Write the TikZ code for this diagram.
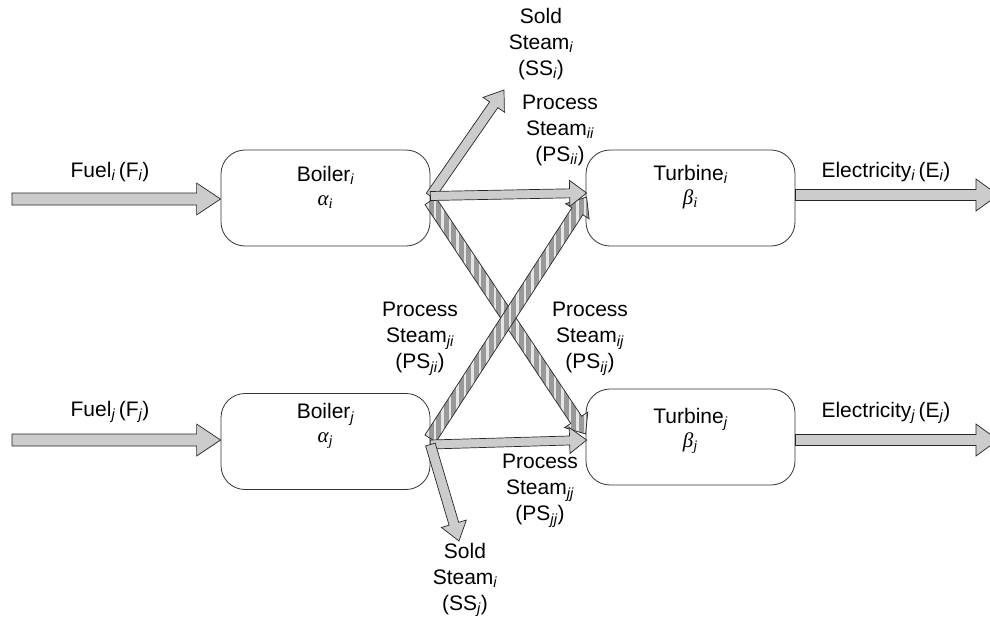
\documentclass[tikz,border=0pt]{standalone}
\usepackage{fontspec}
\setmainfont{Liberation Sans}
\newfontfamily\grkfont{Liberation Serif}
\usetikzlibrary{calc,patterns.meta}
\newcommand{\blockarrow}[6]{%
  \coordinate (ba-base) at ($(#2)!#5!(#1)$);
  \path[#6] ($(#1)!#3!90:(#2)$) -- ($(ba-base)!#3!90:(#2)$) -- ($(ba-base)!#4!90:(#2)$) -- (#2)
     -- ($(ba-base)!#4!-90:(#2)$) -- ($(ba-base)!#3!-90:(#2)$) -- ($(#1)!#3!-90:(#2)$) -- cycle;
}
\newcommand{\sub}[1]{\textsubscript{\itshape #1}}
\newcommand{\grk}[2]{{\grkfont\itshape #1\sub{#2}}}
\begin{document}
\begin{tikzpicture}[x=1pt,y=-1pt,
  unit/.style={draw=black!80, line width=0.8pt, rounded corners=24pt, minimum width=209pt, minimum height=96pt, inner sep=0pt},
  lbl/.style={font=\fontsize{21}{26}\selectfont, align=center, inner sep=0pt},
  plain/.style={fill=black!20, draw=black!85, line width=0.7pt, line join=miter},
  hatched/.style={fill=black!40, postaction={pattern={Lines[angle=90,distance=7.5pt,line width=2.4pt]}, pattern color=white!90!black}, postaction={draw=black!85, line width=0.7pt}}
]
\useasboundingbox (0,0) rectangle (990,625);
\clip (0,0) rectangle (990,625);
% units
\node[unit] (bi) at (325.5,198) {};
\node[unit] (ti) at (690.5,198) {};
\node[unit] (bj) at (325.5,441.5) {};
\node[unit] (tj) at (690.5,437) {};
\node[lbl] (bit) at (325.5,187) {Boiler\sub{i}\\[-2pt]\grk{α}{i}};
\node[lbl] (tit) at (690.5,187) {Turbine\sub{i}\\[-2pt]\grk{β}{i}};
\node[lbl] (bjt) at (325.5,426) {Boiler\sub{j}\\[-2pt]\grk{α}{j}};
\node[lbl] (tjt) at (690.5,431) {Turbine\sub{j}\\[-2pt]\grk{β}{j}};
% coordinates
\coordinate (fi0) at (12,199);
\coordinate (fj0) at (12,440);
\coordinate (ei1) at (998,195);
\coordinate (ej1) at (998,440);
\coordinate (ssi) at (504,90);
\coordinate (ssj) at (459,541);
\coordinate (bio) at ($(bi.east)+(0,-2)$);
\coordinate (bio2) at ($(bi.east)+(0,3)$);
\coordinate (bjo) at ($(bj.east)+(0,-3)$);
\coordinate (bjo2) at ($(bj.east)+(0,3)$);
\coordinate (tiin) at ($(ti.west)+(1,-5)$);
\coordinate (tiin2) at ($(ti.west)+(1,-1)$);
\coordinate (tjin) at ($(tj.west)+(0,-3)$);
\coordinate (tjin2) at ($(tj.west)+(1,3)$);
% hatched cross arrows
\blockarrow{bio2}{tjin}{6.5pt}{14pt}{17pt}{hatched}
\blockarrow{bjo}{tiin2}{6.5pt}{14pt}{17pt}{hatched}
% plain arrows
\blockarrow{fi0}{$(bi.west)+(0,1)$}{6pt}{16pt}{24pt}{plain}
\blockarrow{fj0}{$(bj.west)+(0,-1.5)$}{6pt}{16pt}{24pt}{plain}
\blockarrow{$(ti.east)+(0,-3)$}{ei1}{5.5pt}{16pt}{22pt}{plain}
\blockarrow{$(tj.east)+(0,3)$}{ej1}{5.5pt}{16pt}{22pt}{plain}
\blockarrow{bio}{ssi}{5pt}{13pt}{18pt}{plain}
\blockarrow{bio}{tiin}{4.5pt}{13pt}{17pt}{plain}
\blockarrow{bjo2}{tjin2}{4.5pt}{13pt}{17pt}{plain}
\blockarrow{bjo2}{ssj}{5pt}{13pt}{18pt}{plain}
% labels
\node[lbl] (lfi) at (110,172) {Fuel\sub{i}\,(F\sub{i})};
\node[lbl] (lfj) at (110,412) {Fuel\sub{j}\,(F\sub{j})};
\node[lbl] (lei) at (886,172) {Electricity\sub{i}\,(E\sub{i})};
\node[lbl] (lej) at (886,413) {Electricity\sub{j}\,(E\sub{j})};
\node[lbl] (lssi) at (541,44) {Sold\\Steam\sub{i}\\(SS\sub{i})};
\node[lbl] (lpii) at (560,130) {Process\\Steam\sub{ii}\\(PS\sub{ii})};
\node[lbl] (lpji) at (420,339) {Process\\Steam\sub{ji}\\(PS\sub{ji})};
\node[lbl] (lpij) at (590,339) {Process\\Steam\sub{ij}\\(PS\sub{ij})};
\node[lbl] (lpjj) at (540,491) {Process\\Steam\sub{jj}\\(PS\sub{jj})};
\node[lbl] (lssj) at (465,580) {Sold\\Steam\sub{i}\\(SS\sub{j})};
\end{tikzpicture}
\end{document}
